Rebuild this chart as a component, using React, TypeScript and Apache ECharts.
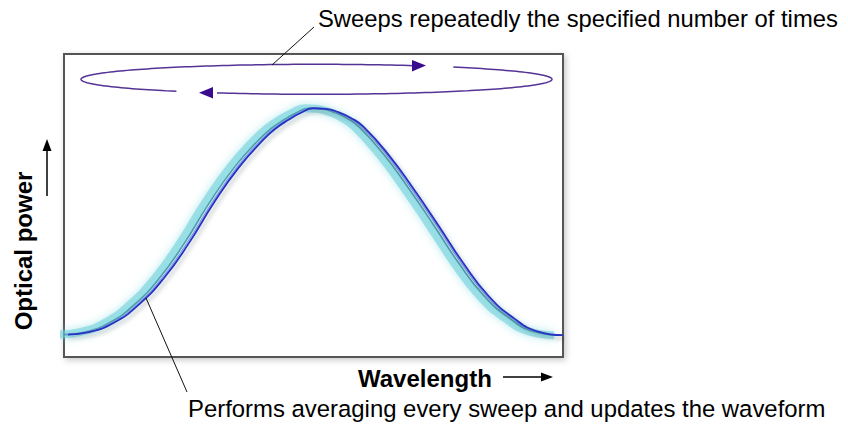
import React, { useEffect, useRef } from "react";
import * as echarts from "echarts";

// Wavelength (relative units 0..100) and optical power (relative units 0..100)
const wavelength = [0.8, 5, 10, 15, 20, 25, 30, 35, 40, 42.5, 45, 47.5, 50, 52.5, 55, 57.5, 60, 65, 70, 75, 80, 85, 90, 95, 100];
const power = [7.4, 8.2, 11.3, 17.3, 26.0, 37.5, 50.8, 62.5, 71.8, 75.5, 78.3, 80.6, 82.1, 81.9, 80.8, 78.9, 76.0, 66.8, 55.6, 43.5, 31.0, 20.3, 13.0, 8.4, 7.2];

const xLabel = "Wavelength";
const yLabel = "Optical power";
const topNote = "Sweeps repeatedly the specified number of times";
const bottomNote = "Performs averaging every sweep and updates the waveform";

const FONT = "'Liberation Sans', Arial, Helvetica, sans-serif";

// decorative sweep ellipse geometry (pixels)
const ELL = { cx: 316.5, cy: 79.3, rx: 235.5, ry: 15 };
const ellipseArc = (fromDeg: number, toDeg: number) => {
  const out: number[][] = [];
  for (let a = fromDeg; a <= toDeg + 0.001; a += 1.5) {
    const r = (a * Math.PI) / 180;
    out.push([ELL.cx + ELL.rx * Math.cos(r), ELL.cy + ELL.ry * Math.sin(r)]);
  }
  return out;
};

export default function App() {
  const ref = useRef<HTMLDivElement>(null);
  useEffect(() => {
    if (!ref.current) return;
    const chart = echarts.init(ref.current, null, { renderer: "svg" });
    const pts = wavelength.map((w, i) => [w, power[i]]);
    const purple = "#553396";
    const line = (axis: number, lineStyle: any) => ({
      type: "line",
      xAxisIndex: axis,
      data: pts,
      smooth: true,
      showSymbol: false,
      lineStyle,
    });
    const option: any = {
      animation: false,
      grid: {
        left: 64,
        top: 54,
        width: 499,
        height: 303,
        show: true,
        backgroundColor: "#ffffff",
        borderColor: "#555555",
        borderWidth: 2,
        shadowColor: "rgba(0,0,0,0.22)",
        shadowBlur: 6,
        shadowOffsetX: 2,
        shadowOffsetY: 2,
      },
      xAxis: [
        { type: "value", min: 0, max: 100, show: false },
        { type: "value", min: 0.4, max: 100.4, show: false },
        { type: "value", min: 0.9, max: 100.9, show: false },
        { type: "value", min: 1.8, max: 101.8, show: false },
      ],
      yAxis: { type: "value", min: 0, max: 100, show: false },
      series: [
        line(3, {
          color: "rgba(105,205,216,0.55)",
          width: 8,
          shadowColor: "rgba(120,215,225,0.95)",
          shadowBlur: 8,
        }),
        line(2, { color: "#45a0ae", width: 1.6 }),
        line(1, { color: "#8596e8", width: 1.2 }),
        line(0, {
          color: "#2630c0",
          width: 1.8,
          shadowColor: "rgba(0,0,0,0.28)",
          shadowBlur: 4,
          shadowOffsetX: 2,
          shadowOffsetY: 3,
        }),
      ],
      graphic: [
        {
          type: "polyline",
          z: 100,
          shape: { points: ellipseArc(126.5, 294.5) },
          style: { fill: "none", stroke: purple, lineWidth: 1.5 },
        },
        {
          type: "polyline",
          z: 100,
          shape: { points: ellipseArc(305.5, 476) },
          style: { fill: "none", stroke: purple, lineWidth: 1.5 },
        },
        {
          type: "polygon",
          z: 101,
          shape: { points: [[426, 65.6], [412, 60], [412, 71.5]] },
          style: { fill: "#3a0c8e" },
        },
        {
          type: "polygon",
          z: 101,
          shape: { points: [[199, 92.8], [213, 87], [213, 98.5]] },
          style: { fill: "#3a0c8e" },
        },
        {
          type: "line",
          z: 102,
          shape: { x1: 272, y1: 65, x2: 314, y2: 27 },
          style: { stroke: "#111", lineWidth: 1 },
        },
        {
          type: "line",
          z: 102,
          shape: { x1: 146, y1: 298, x2: 187, y2: 392 },
          style: { stroke: "#111", lineWidth: 1 },
        },
        {
          type: "text",
          z: 102,
          x: 318,
          y: 18,
          style: {
            text: topNote,
            fontSize: 23.8,
            fontFamily: FONT,
            fill: "#000",
            textAlign: "left",
            textVerticalAlign: "middle",
          },
        },
        {
          type: "text",
          z: 102,
          x: 188,
          y: 408,
          style: {
            text: bottomNote,
            fontSize: 23.9,
            fontFamily: FONT,
            fill: "#000",
            textAlign: "left",
            textVerticalAlign: "middle",
          },
        },
        {
          type: "text",
          z: 102,
          x: 358,
          y: 378,
          style: {
            text: xLabel,
            fontSize: 24,
            fontWeight: "bold",
            fontFamily: FONT,
            fill: "#000",
            textAlign: "left",
            textVerticalAlign: "middle",
          },
        },
        {
          type: "text",
          z: 102,
          x: 23,
          y: 251,
          rotation: Math.PI / 2,
          style: {
            text: yLabel,
            fontSize: 24,
            fontWeight: "bold",
            fontFamily: FONT,
            fill: "#000",
            textAlign: "center",
            textVerticalAlign: "middle",
          },
        },
        {
          type: "line",
          z: 102,
          shape: { x1: 503, y1: 377, x2: 543, y2: 377 },
          style: { stroke: "#000", lineWidth: 1.5 },
        },
        {
          type: "polygon",
          z: 102,
          shape: { points: [[553, 377], [541, 372.5], [541, 381.5]] },
          style: { fill: "#000" },
        },
        {
          type: "line",
          z: 102,
          shape: { x1: 47, y1: 196, x2: 47, y2: 150 },
          style: { stroke: "#000", lineWidth: 1.5 },
        },
        {
          type: "polygon",
          z: 102,
          shape: { points: [[47, 139], [42.5, 151], [51.5, 151]] },
          style: { fill: "#000" },
        },
      ],
    };
    chart.setOption(option);
    return () => chart.dispose();
  }, []);
  return (
    <div
      ref={ref}
      style={{ position: "fixed", left: 0, top: 0, width: 848, height: 430, background: "#fff" }}
    />
  );
}
